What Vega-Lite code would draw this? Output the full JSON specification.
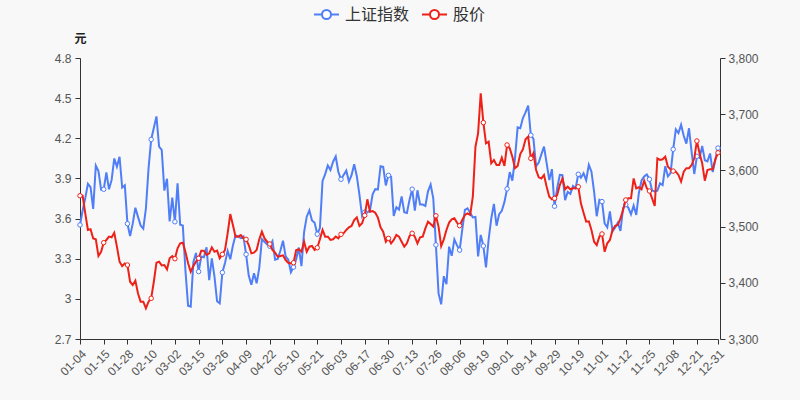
{
"$schema":"https://vega.github.io/schema/vega-lite/v6.json",
"autosize":{"type":"none"},
"width":640,"height":281,
"padding":{"left":80,"top":58,"right":80,"bottom":61},
"background":"#f8f8f8",
"data":{"values":[
{"d":"01-04","sh":3502.96,"price":3.771},{"d":"01-05","sh":3528.68,"price":3.771},{"d":"01-06","sh":3550.88,"price":3.639},{"d":"01-07","sh":3576.20,"price":3.515},{"d":"01-08","sh":3570.11,"price":3.52},
{"d":"01-11","sh":3531.50,"price":3.452},{"d":"01-12","sh":3608.34,"price":3.445},{"d":"01-13","sh":3598.65,"price":3.32},{"d":"01-14","sh":3565.90,"price":3.352},{"d":"01-15","sh":3566.38,"price":3.42},
{"d":"01-18","sh":3596.22,"price":3.44},{"d":"01-19","sh":3566.38,"price":3.465},{"d":"01-20","sh":3583.09,"price":3.46},{"d":"01-21","sh":3621.26,"price":3.494},{"d":"01-22","sh":3606.75,"price":3.39},
{"d":"01-25","sh":3624.24,"price":3.278},{"d":"01-26","sh":3569.43,"price":3.245},{"d":"01-27","sh":3573.34,"price":3.265},{"d":"01-28","sh":3505.18,"price":3.253},{"d":"01-29","sh":3483.07,"price":3.128},
{"d":"02-01","sh":3505.28,"price":3.104},{"d":"02-02","sh":3533.68,"price":3.136},{"d":"02-03","sh":3517.31,"price":3.04},{"d":"02-04","sh":3501.86,"price":2.979},{"d":"02-05","sh":3496.33,"price":2.979},
{"d":"02-08","sh":3532.16,"price":2.929},{"d":"02-09","sh":3603.49,"price":2.979},{"d":"02-10","sh":3655.09,"price":3.004},{"d":"02-18","sh":3675.36,"price":3.128},{"d":"02-19","sh":3696.17,"price":3.27},
{"d":"02-22","sh":3642.44,"price":3.278},{"d":"02-23","sh":3636.36,"price":3.25},{"d":"02-24","sh":3564.08,"price":3.253},{"d":"02-25","sh":3585.05,"price":3.22},{"d":"02-26","sh":3509.08,"price":3.303},
{"d":"03-01","sh":3551.40,"price":3.32},{"d":"03-02","sh":3508.59,"price":3.3},{"d":"03-03","sh":3576.90,"price":3.378},{"d":"03-04","sh":3503.49,"price":3.415},{"d":"03-05","sh":3501.99,"price":3.42},
{"d":"03-08","sh":3421.41,"price":3.35},{"d":"03-09","sh":3359.29,"price":3.266},{"d":"03-10","sh":3357.74,"price":3.203},{"d":"03-11","sh":3436.83,"price":3.245},{"d":"03-12","sh":3453.08,"price":3.278},
{"d":"03-15","sh":3419.95,"price":3.303},{"d":"03-16","sh":3446.73,"price":3.36},{"d":"03-17","sh":3445.55,"price":3.36},{"d":"03-18","sh":3463.07,"price":3.328},{"d":"03-19","sh":3404.66,"price":3.34},
{"d":"03-22","sh":3443.44,"price":3.385},{"d":"03-23","sh":3411.51,"price":3.352},{"d":"03-24","sh":3367.06,"price":3.36},{"d":"03-25","sh":3363.59,"price":3.303},{"d":"03-26","sh":3418.33,"price":3.333},
{"d":"03-29","sh":3435.30,"price":3.365},{"d":"03-30","sh":3456.68,"price":3.49},{"d":"03-31","sh":3441.91,"price":3.634},{"d":"04-01","sh":3466.33,"price":3.552},{"d":"04-02","sh":3484.39,"price":3.465},
{"d":"04-06","sh":3482.61,"price":3.465},{"d":"04-07","sh":3479.63,"price":3.477},{"d":"04-08","sh":3482.48,"price":3.452},{"d":"04-09","sh":3450.68,"price":3.445},
{"d":"04-12","sh":3412.95,"price":3.402},{"d":"04-13","sh":3396.47,"price":3.34},{"d":"04-14","sh":3416.99,"price":3.345},{"d":"04-15","sh":3398.99,"price":3.365},{"d":"04-16","sh":3426.62,"price":3.445},
{"d":"04-19","sh":3477.55,"price":3.502},{"d":"04-20","sh":3472.94,"price":3.452},{"d":"04-21","sh":3468.39,"price":3.427},{"d":"04-22","sh":3465.11,"price":3.41},{"d":"04-23","sh":3474.17,"price":3.365},
{"d":"04-26","sh":3441.17,"price":3.345},{"d":"04-27","sh":3442.61,"price":3.315},{"d":"04-28","sh":3457.07,"price":3.32},{"d":"04-29","sh":3474.90,"price":3.325},{"d":"04-30","sh":3446.86,"price":3.29},
{"d":"05-06","sh":3441.28,"price":3.27},{"d":"05-07","sh":3418.87,"price":3.265},
{"d":"05-10","sh":3427.99,"price":3.27},{"d":"05-11","sh":3441.85,"price":3.365},{"d":"05-12","sh":3462.75,"price":3.37},{"d":"05-13","sh":3429.54,"price":3.352},{"d":"05-14","sh":3490.38,"price":3.427},
{"d":"05-17","sh":3517.62,"price":3.352},{"d":"05-18","sh":3529.01,"price":3.39},{"d":"05-19","sh":3510.96,"price":3.395},{"d":"05-20","sh":3506.94,"price":3.365},{"d":"05-21","sh":3486.56,"price":3.382},
{"d":"05-24","sh":3497.28,"price":3.445},{"d":"05-25","sh":3581.34,"price":3.515},{"d":"05-26","sh":3593.36,"price":3.465},{"d":"05-27","sh":3608.85,"price":3.465},{"d":"05-28","sh":3600.78,"price":3.44},
{"d":"05-31","sh":3615.48,"price":3.445},{"d":"06-01","sh":3624.71,"price":3.465},{"d":"06-02","sh":3597.14,"price":3.452},{"d":"06-03","sh":3584.22,"price":3.482},{"d":"06-04","sh":3591.84,"price":3.49},
{"d":"06-07","sh":3599.54,"price":3.515},{"d":"06-08","sh":3580.11,"price":3.535},{"d":"06-09","sh":3591.40,"price":3.545},{"d":"06-10","sh":3610.86,"price":3.589},{"d":"06-11","sh":3589.75,"price":3.609},
{"d":"06-15","sh":3556.56,"price":3.545},{"d":"06-16","sh":3518.33,"price":3.565},{"d":"06-17","sh":3525.60,"price":3.624},{"d":"06-18","sh":3525.10,"price":3.744},
{"d":"06-21","sh":3529.18,"price":3.651},{"d":"06-22","sh":3557.41,"price":3.656},{"d":"06-23","sh":3566.65,"price":3.644},{"d":"06-24","sh":3566.22,"price":3.607},{"d":"06-25","sh":3607.56,"price":3.535},
{"d":"06-28","sh":3606.37,"price":3.502},{"d":"06-29","sh":3573.18,"price":3.427},{"d":"06-30","sh":3591.20,"price":3.452},{"d":"07-01","sh":3588.78,"price":3.415},{"d":"07-02","sh":3518.76,"price":3.44},
{"d":"07-05","sh":3534.32,"price":3.477},{"d":"07-06","sh":3530.26,"price":3.465},{"d":"07-07","sh":3553.72,"price":3.427},{"d":"07-08","sh":3525.50,"price":3.39},{"d":"07-09","sh":3524.09,"price":3.415},
{"d":"07-12","sh":3547.84,"price":3.47},{"d":"07-13","sh":3566.59,"price":3.49},{"d":"07-14","sh":3528.50,"price":3.465},{"d":"07-15","sh":3564.59,"price":3.415},{"d":"07-16","sh":3539.30,"price":3.46},
{"d":"07-19","sh":3539.12,"price":3.465},{"d":"07-20","sh":3536.79,"price":3.527},{"d":"07-21","sh":3562.70,"price":3.577},{"d":"07-22","sh":3574.73,"price":3.56},{"d":"07-23","sh":3550.40,"price":3.54},
{"d":"07-26","sh":3467.44,"price":3.621},{"d":"07-27","sh":3381.18,"price":3.54},{"d":"07-28","sh":3361.59,"price":3.395},{"d":"07-29","sh":3411.72,"price":3.445},{"d":"07-30","sh":3397.36,"price":3.515},
{"d":"08-02","sh":3464.29,"price":3.57},{"d":"08-03","sh":3447.99,"price":3.594},{"d":"08-04","sh":3477.22,"price":3.602},{"d":"08-05","sh":3466.56,"price":3.57},{"d":"08-06","sh":3458.23,"price":3.547},
{"d":"08-09","sh":3494.63,"price":3.589},{"d":"08-10","sh":3529.93,"price":3.627},{"d":"08-11","sh":3532.62,"price":3.639},{"d":"08-12","sh":3524.74,"price":3.627},{"d":"08-13","sh":3516.30,"price":3.763},
{"d":"08-16","sh":3517.34,"price":4.137},{"d":"08-17","sh":3446.98,"price":4.237},{"d":"08-18","sh":3485.29,"price":4.536},{"d":"08-19","sh":3465.55,"price":4.317},{"d":"08-20","sh":3427.33,"price":4.162},
{"d":"08-23","sh":3477.13,"price":4.174},{"d":"08-24","sh":3514.47,"price":4.013},{"d":"08-25","sh":3540.38,"price":4.038},{"d":"08-26","sh":3501.66,"price":4.0},{"d":"08-27","sh":3522.16,"price":4.0},
{"d":"08-30","sh":3528.15,"price":4.055},{"d":"08-31","sh":3543.94,"price":3.993},{"d":"09-01","sh":3567.10,"price":4.15},{"d":"09-02","sh":3597.04,"price":4.125},{"d":"09-03","sh":3581.73,"price":4.062},
{"d":"09-06","sh":3621.86,"price":3.976},{"d":"09-07","sh":3676.59,"price":3.993},{"d":"09-08","sh":3675.19,"price":4.082},{"d":"09-09","sh":3693.13,"price":4.118},{"d":"09-10","sh":3703.11,"price":4.192},
{"d":"09-13","sh":3715.37,"price":4.212},{"d":"09-14","sh":3662.60,"price":4.05},{"d":"09-15","sh":3656.22,"price":4.088},{"d":"09-16","sh":3607.09,"price":3.963},{"d":"09-17","sh":3613.97,"price":3.908},
{"d":"09-22","sh":3628.49,"price":3.9},{"d":"09-23","sh":3642.22,"price":3.926},{"d":"09-24","sh":3613.07,"price":3.838},
{"d":"09-27","sh":3582.83,"price":3.763},{"d":"09-28","sh":3602.22,"price":3.744},{"d":"09-29","sh":3536.29,"price":3.751},{"d":"09-30","sh":3568.17,"price":3.776},
{"d":"10-08","sh":3592.17,"price":3.851},
{"d":"10-11","sh":3591.71,"price":3.9},{"d":"10-12","sh":3546.94,"price":3.819},{"d":"10-13","sh":3561.76,"price":3.838},{"d":"10-14","sh":3558.28,"price":3.819},{"d":"10-15","sh":3572.37,"price":3.826},
{"d":"10-18","sh":3568.14,"price":3.826},{"d":"10-19","sh":3593.15,"price":3.838},{"d":"10-20","sh":3587.00,"price":3.714},{"d":"10-21","sh":3594.78,"price":3.644},{"d":"10-22","sh":3582.60,"price":3.577},
{"d":"10-25","sh":3609.86,"price":3.58},{"d":"10-26","sh":3597.64,"price":3.515},{"d":"10-27","sh":3562.31,"price":3.427},{"d":"10-28","sh":3518.42,"price":3.402},{"d":"10-29","sh":3547.34,"price":3.465},
{"d":"11-01","sh":3544.48,"price":3.485},{"d":"11-02","sh":3505.63,"price":3.352},{"d":"11-03","sh":3498.54,"price":3.415},{"d":"11-04","sh":3526.87,"price":3.44},{"d":"11-05","sh":3491.57,"price":3.515},
{"d":"11-08","sh":3498.63,"price":3.545},{"d":"11-09","sh":3507.00,"price":3.552},{"d":"11-10","sh":3492.46,"price":3.602},{"d":"11-11","sh":3532.79,"price":3.664},{"d":"11-12","sh":3539.10,"price":3.739},
{"d":"11-15","sh":3533.30,"price":3.751},{"d":"11-16","sh":3521.79,"price":3.751},{"d":"11-17","sh":3537.37,"price":3.9},{"d":"11-18","sh":3520.71,"price":3.826},{"d":"11-19","sh":3560.37,"price":3.834},
{"d":"11-22","sh":3582.08,"price":3.819},{"d":"11-23","sh":3589.09,"price":3.883},{"d":"11-24","sh":3592.70,"price":3.826},{"d":"11-25","sh":3584.18,"price":3.806},{"d":"11-26","sh":3564.09,"price":3.751},
{"d":"11-29","sh":3562.70,"price":3.694},{"d":"11-30","sh":3563.89,"price":4.05},{"d":"12-01","sh":3576.89,"price":4.038},{"d":"12-02","sh":3573.84,"price":4.043},{"d":"12-03","sh":3607.43,"price":4.062},
{"d":"12-06","sh":3589.31,"price":3.988},{"d":"12-07","sh":3595.09,"price":3.968},{"d":"12-08","sh":3637.57,"price":3.955},{"d":"12-09","sh":3673.04,"price":3.95},{"d":"12-10","sh":3666.35,"price":3.926},
{"d":"12-13","sh":3681.08,"price":3.876},{"d":"12-14","sh":3661.53,"price":3.95},{"d":"12-15","sh":3647.63,"price":3.976},{"d":"12-16","sh":3675.02,"price":3.976},{"d":"12-17","sh":3632.36,"price":4.0},
{"d":"12-20","sh":3593.60,"price":4.05},{"d":"12-21","sh":3625.13,"price":4.18},{"d":"12-22","sh":3622.62,"price":4.088},{"d":"12-23","sh":3643.34,"price":4.013},{"d":"12-24","sh":3618.05,"price":3.883},
{"d":"12-27","sh":3615.97,"price":3.963},{"d":"12-28","sh":3630.11,"price":3.968},{"d":"12-29","sh":3597.00,"price":3.968},{"d":"12-30","sh":3619.19,"price":4.043},{"d":"12-31","sh":3639.78,"price":4.092}
]},
"encoding":{"x":{"field":"d","type":"ordinal","sort":null,"scale":{"type":"point","padding":0,"range":[0,638]},
  "axis":{"title":null,"values":["01-04","01-15","01-28","02-10","03-02","03-15","03-26","04-09","04-22","05-10","05-21","06-03","06-17","06-30","07-13","07-26","08-06","08-19","09-01","09-14","09-29","10-19","11-01","11-12","11-25","12-08","12-21","12-31"],
  "labelAngle":-45,"labelOverlap":false,"labelFlush":false,"labelPadding":4,"labelFontSize":12,"labelColor":"#555555","domainColor":"#333333","tickColor":"#333333","tickSize":5,"grid":false}}},
"layer":[
 {"encoding":{"y":{"field":"sh","type":"quantitative","scale":{"domain":[3300,3800],"nice":false,"zero":false},
   "axis":{"orient":"right","title":null,"values":[3300,3400,3500,3600,3700,3800],"format":",d","labelFontSize":12,"labelColor":"#555555","domainColor":"#333333","tickColor":"#333333","tickSize":5,"labelPadding":3,"grid":false}},
   "color":{"datum":"上证指数","type":"nominal","scale":{"domain":["上证指数","股价"],"range":["#4f7ef7","#ee2118"]},
     "legend":{"title":null,"orient":"none","legendX":233,"legendY":-57,"direction":"horizontal","columnPadding":8,"labelOffset":5,"labelFontSize":16,"labelColor":"#333333","symbolSize":625,"symbolStrokeWidth":2,"symbolType":"M-1,0L-0.36,0M0.36,0L1,0M-0.36,0A0.36,0.36,0,1,1,0.36,0A0.36,0.36,0,1,1,-0.36,0Z",
       "encode":{"symbols":{"update":{"fill":{"value":"#ffffff"},"strokeWidth":{"value":2},"opacity":{"value":1}}}}}}},
  "layer":[
   {"mark":{"type":"line","strokeWidth":2}},
   {"transform":[{"filter":{"field":"d","oneOf":["01-04","01-15","01-28","02-10","03-02","03-15","03-26","04-09","04-22","05-10","05-21","06-03","06-17","06-30","07-13","07-26","08-06","08-19","09-01","09-14","09-29","10-19","11-01","11-12","11-25","12-08","12-21","12-31"]}}],
    "mark":{"type":"point","shape":"circle","filled":false,"fill":"#ffffff","size":20,"strokeWidth":1,"opacity":1}}
  ]},
 {"encoding":{"y":{"field":"price","type":"quantitative","scale":{"domain":[2.7,4.8],"nice":false,"zero":false},
   "axis":{"orient":"left","title":"元","titleAngle":0,"titleAlign":"center","titleBaseline":"middle","titleX":0,"titleY":-20,"titleFontSize":12,"titleFontWeight":"bold","titleColor":"#222222","values":[2.7,3,3.3,3.6,3.9,4.2,4.5,4.8],"format":"~g","labelFontSize":12,"labelColor":"#555555","domainColor":"#333333","tickColor":"#333333","tickSize":5,"labelPadding":4,"grid":false}},
   "color":{"datum":"股价","type":"nominal"}},
  "layer":[
   {"mark":{"type":"line","strokeWidth":2}},
   {"transform":[{"filter":{"field":"d","oneOf":["01-04","01-15","01-28","02-10","03-02","03-15","03-26","04-09","04-22","05-10","05-21","06-03","06-17","06-30","07-13","07-26","08-06","08-19","09-01","09-14","09-29","10-19","11-01","11-12","11-25","12-08","12-21","12-31"]}}],
    "mark":{"type":"point","shape":"circle","filled":false,"fill":"#ffffff","size":20,"strokeWidth":1,"opacity":1}}
  ]}
],
"resolve":{"scale":{"y":"independent"}},
"config":{"font":"Liberation Sans, Noto Sans CJK SC, sans-serif","view":{"stroke":null},"legend":{"labelFont":"Noto Sans CJK SC, Liberation Sans, sans-serif"}}
}
